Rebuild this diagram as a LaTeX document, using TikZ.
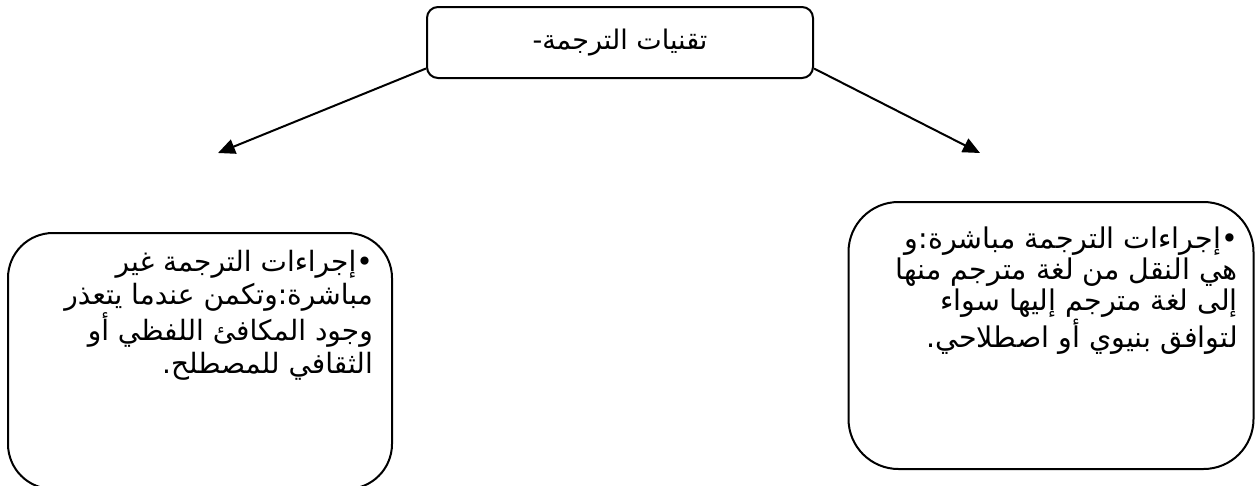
\documentclass[tikz,border=0pt]{standalone}
\usepackage{fontspec}
\usetikzlibrary{arrows.meta}
\TeXXeTstate=1
\newfontfamily\arabicfont[Script=Arabic]{DejaVu Sans}
\tikzset{
  box/.style={draw, line width=2pt, inner sep=0pt},
  conn/.style={line width=2pt, -{Triangle[length=17pt,width=15pt]}},
  txt/.style={inner sep=0pt, align=right},
}
\begin{document}
\begin{tikzpicture}[x=1pt,y=-1pt]
\useasboundingbox (0,0) rectangle (1256,485);
\clip (0,0) rectangle (1256,485);
% top box
\node[box, rounded corners=11pt, minimum width=386pt, minimum height=71pt] (top) at (620,42.5) {};
\node[txt, font=\arabicfont\fontsize{27}{32}\selectfont] (toptxt) at (620,43) {\beginR تقنيات الترجمة-\endR};
% left box
\node[box, rounded corners=45pt, minimum width=384pt, minimum height=256pt] (lbox) at (200,361) {};
\node[txt, anchor=north east, font=\arabicfont\fontsize{28}{33}\selectfont] (ltxt) at (373,250) {%
\beginR •إجراءات الترجمة غير\endR\\
\beginR مباشرة:وتكمن عندما يتعذر\endR\\
\beginR وجود المكافئ اللفظي أو\endR\\
\beginR الثقافي للمصطلح.\endR};
% right box
\node[box, rounded corners=50pt, minimum width=405pt, minimum height=267pt] (rbox) at (1051,335.5) {};
\node[txt, anchor=north east, font=\arabicfont\fontsize{28.5}{31}\selectfont] (rtxt) at (1238,227) {%
\beginR •إجراءات الترجمة مباشرة:و\endR\\
\beginR هي النقل من لغة مترجم منها\endR\\
\beginR إلى لغة مترجم إليها سواء\endR\\
\beginR لتوافق بنيوي أو اصطلاحي.\endR};
% connectors
\coordinate (la) at (218,153);
\coordinate (ra) at (980,153);
\draw[conn] ([yshift=-26pt]top.west) -- (la);
\draw[conn] ([yshift=-26pt]top.east) -- (ra);
\end{tikzpicture}
\end{document}
